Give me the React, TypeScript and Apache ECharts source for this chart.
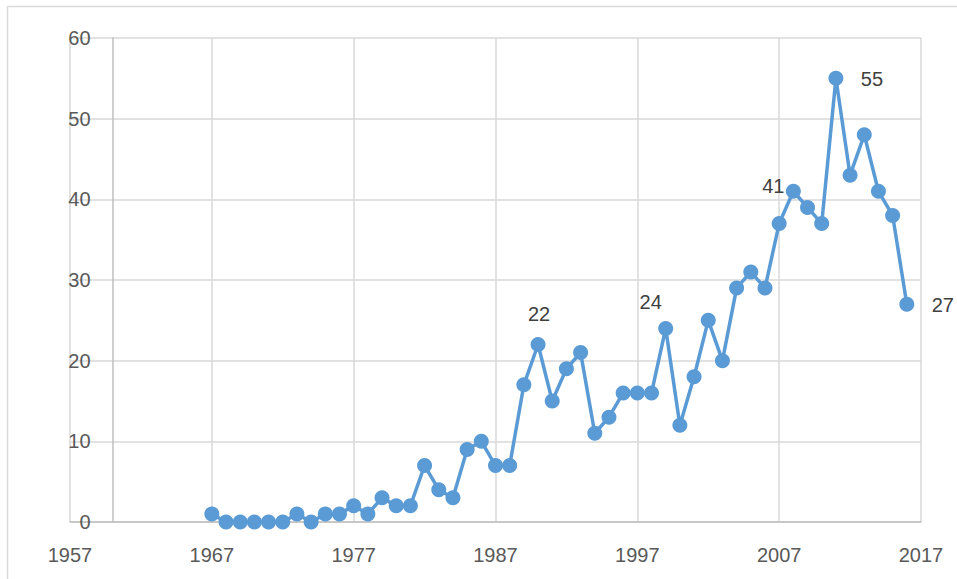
import React, { useEffect, useRef } from "react";
import * as echarts from "echarts";

const years = [
  1967, 1968, 1969, 1970, 1971, 1972, 1973, 1974, 1975, 1976,
  1977, 1978, 1979, 1980, 1981, 1982, 1983, 1984, 1985, 1986,
  1987, 1988, 1989, 1990, 1991, 1992, 1993, 1994, 1995, 1996,
  1997, 1998, 1999, 2000, 2001, 2002, 2003, 2004, 2005, 2006,
  2007, 2008, 2009, 2010, 2011, 2012, 2013, 2014, 2015, 2016,
];
const counts = [
  1, 0, 0, 0, 0, 0, 1, 0, 1, 1,
  2, 1, 3, 2, 2, 7, 4, 3, 9, 10,
  7, 7, 17, 22, 15, 19, 21, 11, 13, 16,
  16, 16, 24, 12, 18, 25, 20, 29, 31, 29,
  37, 41, 39, 37, 55, 43, 48, 41, 38, 27,
];
const labelledYears = [1990, 1999, 2008, 2011, 2016];
const labelOffsets: Record<number, [number, number]> = {
  1990: [1, -31],
  1999: [-15, -26],
  2008: [-20, -5],
  2011: [36, 1],
  2016: [36, 1],
};
const xMinYear = 1957;
const xMaxYear = 2017;
const yAxisCrossYear = 1960;

const FONT = "'Liberation Sans', Arial, sans-serif";

export default function App() {
  const ref = useRef<HTMLDivElement>(null);
  useEffect(() => {
    if (!ref.current) return;
    const chart = echarts.init(ref.current, null, { renderer: "svg" });
    const gridLeft = 70;
    const gridRight = 36;
    const plotW = 957 - gridLeft - gridRight;
    const crossOffset = ((yAxisCrossYear - xMinYear) / (xMaxYear - xMinYear)) * plotW;

    const data = years.map((y, i) => {
      const item: any = { value: [y - xMinYear, counts[i]] };
      if (labelledYears.includes(y)) {
        item.label = {
          show: true,
          position: "inside",
          offset: labelOffsets[y],
          align: "center",
          verticalAlign: "middle",
          formatter: String(counts[i]),
          color: "#404040",
          fontSize: 20,
          fontFamily: FONT,
        };
      }
      return item;
    });

    chart.setOption({
      animation: false,
      backgroundColor: "#ffffff",
      graphic: [
        {
          type: "rect",
          shape: { x: 7.5, y: 6.5, width: 1000, height: 1000 },
          style: { fill: "none", stroke: "#d9d9d9", lineWidth: 1.5 },
          silent: true,
        },
      ],
      grid: { left: gridLeft, right: gridRight, top: 38, bottom: 57, containLabel: false },
      xAxis: {
        type: "value",
        min: 0,
        max: xMaxYear - xMinYear,
        interval: 10,
        axisLine: { show: true, onZero: false, lineStyle: { color: "#bfbfbf", width: 1.5 } },
        axisTick: { show: false },
        splitLine: { show: true, lineStyle: { color: "#d9d9d9", width: 1.5 } },
        axisLabel: {
          formatter: (v: number) => String(v + xMinYear),
          color: "#595959",
          fontSize: 20,
          fontFamily: FONT,
          margin: 23,
        },
      },
      yAxis: {
        type: "value",
        min: 0,
        max: 60,
        interval: 10,
        offset: -crossOffset,
        axisLine: { show: true, onZero: false, lineStyle: { color: "#bfbfbf", width: 1.5 } },
        axisTick: { show: false },
        splitLine: { show: true, lineStyle: { color: "#d9d9d9", width: 1.5 } },
        axisLabel: {
          color: "#595959",
          fontSize: 20,
          fontFamily: FONT,
          margin: 22,
        },
      },
      series: [
        {
          type: "line",
          data,
          symbol: "circle",
          symbolSize: 15,
          showAllSymbol: true,
          lineStyle: { color: "#5b9bd5", width: 3.5 },
          itemStyle: { color: "#5b9bd5" },
          label: { show: false },
          emphasis: { disabled: true },
        },
      ],
    });
    return () => chart.dispose();
  }, []);
  return (
    <div
      ref={ref}
      style={{ position: "absolute", left: 0, top: 0, width: 957, height: 579 }}
    />
  );
}
